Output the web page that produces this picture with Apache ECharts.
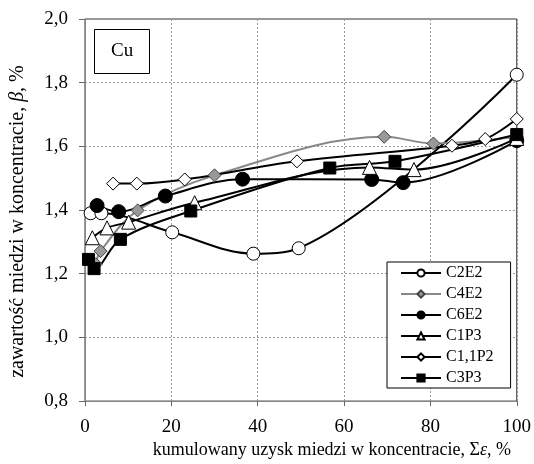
<!DOCTYPE html>
<html><head><meta charset="utf-8">
<script src="https://cdn.jsdelivr.net/npm/echarts@6/dist/echarts.min.js"></script>
<style>html,body{margin:0;padding:0;background:#fff}#c{width:534px;height:464px}</style>
</head><body><div id="c"></div>
<script>
const C2E2 = [[1.3,1.39],[3.8,1.39],[20.2,1.33],[39,1.263],[49.5,1.28],[100,1.825]];
const C4E2 = [[2.5,1.23],[3.6,1.271],[12.2,1.399],[30,1.509],[69.3,1.63],[80.7,1.609],[100,1.63]];
const C6E2 = [[2.8,1.414],[7.8,1.395],[18.6,1.444],[36.5,1.497],[66.4,1.496],[73.7,1.486],[100,1.618]];
const C1P3 = [[1.7,1.313],[5.1,1.344],[10.1,1.362],[25.4,1.423],[65.9,1.534],[76.2,1.527],[100,1.625]];
const C11P2 = [[6.5,1.483],[12,1.483],[23.1,1.496],[49.1,1.553],[85,1.602],[92.7,1.623],[100,1.686]];
const C3P3 = [[0.8,1.245],[2.1,1.216],[8.2,1.308],[24.5,1.397],[56.7,1.532],[71.8,1.553],[100,1.637]];
const names = ['C2E2','C4E2','C6E2','C1P3','C1,1P2','C3P3'];
const xTicks = [0,20,40,60,80,100];
const yTicks = [0.8,1.0,1.2,1.4,1.6,1.8,2.0];

const font = 'Liberation Serif';
function mk(name, data, symbol, size, fill, lineColor, border){
  return {name, type:'line', data, smooth:0.35, symbol, symbolSize:size,
    lineStyle:{color:lineColor,width:2}, itemStyle:{color:fill,borderColor:border,borderWidth:1},
    emphasis:{disabled:true}};
}
const chart = echarts.init(document.getElementById('c'));
chart.setOption({
  animation:false,
  backgroundColor:'#fff',
  title:{text:'Cu', left:94, top:29, borderColor:'#000', borderWidth:1, padding:[13,17,13,17],
    textStyle:{fontFamily:font, fontSize:19, fontWeight:'normal', color:'#000'}},
  grid:{left:81, right:17, top:19, bottom:62, show:true, borderColor:'#333', borderWidth:1},
  legend:{orient:'vertical', left:387, top:262, data:names, backgroundColor:'#fff',
    borderColor:'#000', borderWidth:1, padding:[3,17,2,13], itemWidth:40, itemHeight:9, itemGap:5,
    textStyle:{fontFamily:font, fontSize:16, color:'#000'}},
  xAxis:{type:'value', min:0, max:100, interval:20,
    name:'{a|kumulowany uzysk miedzi w koncentracie, Σ}{i|ε}{a|, %}', nameLocation:'middle', nameGap:38,
    nameTextStyle:{padding:[0,0,0,62], rich:{a:{fontFamily:font,fontSize:18,color:'#000'},i:{fontFamily:font,fontSize:18,fontStyle:'italic',color:'#000'}}},
    axisLine:{lineStyle:{color:'#888'}}, axisTick:{inside:false,length:5,lineStyle:{color:'#666'}},
    axisLabel:{fontFamily:font,fontSize:19,color:'#000',margin:16, formatter:v=>xTicks.includes(v)?String(v):''},
    splitLine:{show:true,lineStyle:{color:'#999',type:[2,2],width:1}}},
  yAxis:{type:'value', min:0.8, max:2.0, interval:0.2,
    name:'{a|zawartość miedzi w koncentracie, }{i|β}{a|, %}', nameLocation:'middle', nameGap:57, nameRotate:90,
    nameTextStyle:{padding:[0,23,0,0], rich:{a:{fontFamily:font,fontSize:20,color:'#000'},i:{fontFamily:font,fontSize:20,fontStyle:'italic',color:'#000'}}},
    axisLine:{show:true,lineStyle:{color:'#888'}}, axisTick:{show:true,length:6,lineStyle:{color:'#666'}},
    axisLabel:{fontFamily:font,fontSize:19,color:'#000',margin:17,
      formatter:v=>{const t=yTicks.find(k=>Math.abs(k-v)<1e-6);return t===undefined?'':t.toFixed(1).replace('.',',');}},
    splitLine:{show:true,lineStyle:{color:'#999',type:[2,2],width:1}}},
  series:[
    mk(names[0], C2E2, 'circle', 13, '#fff', '#000', '#000'),
    mk(names[1], C4E2, 'diamond', 13, '#999', '#888', '#444'),
    mk(names[2], C6E2, 'circle', 14, '#000', '#000', '#000'),
    mk(names[3], C1P3, 'triangle', 14, '#fff', '#000', '#000'),
    mk(names[4], C11P2, 'diamond', 13, '#fff', '#000', '#000'),
    mk(names[5], C3P3, 'rect', 12, '#000', '#000', '#000')
  ]
});
</script></body></html>
